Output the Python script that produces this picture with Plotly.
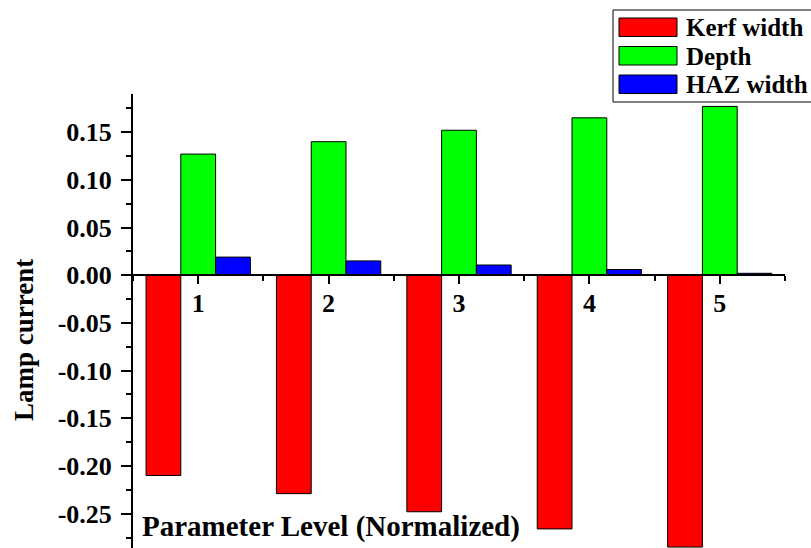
import plotly.graph_objects as go

# Parameter levels and the normalized responses of each output
levels = [1, 2, 3, 4, 5]
series_names = ["Kerf width", "Depth", "HAZ width"]
kerf_width = [-0.210, -0.229, -0.248, -0.266, -0.285]
depth = [0.127, 0.140, 0.152, 0.165, 0.177]
haz_width = [0.019, 0.015, 0.0107, 0.006, 0.002]
series_colors = ["#FF0000", "#00FF00", "#0000FF"]

y_tickvals = [-0.25, -0.20, -0.15, -0.10, -0.05, 0.00, 0.05, 0.10, 0.15]
y_ticktext = ["-0.25", "-0.20", "-0.15", "-0.10", "-0.05", "0.00", "0.05", "0.10", "0.15"]

x_range = [0.5, 5.5]
y_range = [-0.286, 0.19]

FONT = "Liberation Serif, Times New Roman, serif"
W, H = 811, 548
ML, MR, MT, MB = 133, 26, 94, 0

fig = go.Figure()
for name, vals, col in zip(series_names, [kerf_width, depth, haz_width], series_colors):
    fig.add_trace(go.Bar(
        x=levels, y=vals, name=name,
        marker=dict(color=col, line=dict(color="black", width=1)),
        showlegend=False,
    ))

# x axis sits on the zero line of the value axis
x_pos = (0 - y_range[0]) / (y_range[1] - y_range[0])

fig.update_layout(
    width=W, height=H,
    margin=dict(l=ML, r=MR, t=MT, b=MB, pad=0),
    paper_bgcolor="white", plot_bgcolor="white",
    barmode="group", bargap=0.2, bargroupgap=0,
    font=dict(family=FONT, color="black"),
    xaxis=dict(
        range=x_range, tickvals=levels, ticktext=[str(v) for v in levels],
        anchor="free", position=x_pos,
        showline=True, linecolor="black", linewidth=2,
        ticks="outside", ticklen=8, tickwidth=2, tickcolor="black",
        minor=dict(tickmode="linear", tick0=0.5, dtick=1, ticks="outside",
                   ticklen=5, tickwidth=2, tickcolor="black"),
        tickfont=dict(family=FONT, size=26, color="black", weight="bold"),
        ticklabelstandoff=-3,
        showgrid=False, zeroline=False,
    ),
    yaxis=dict(
        range=y_range, tickvals=y_tickvals, ticktext=y_ticktext,
        showline=True, linecolor="black", linewidth=2,
        ticks="outside", ticklen=10, tickwidth=2, tickcolor="black",
        minor=dict(tickmode="linear", tick0=0, dtick=0.025, ticks="outside",
                   ticklen=5, tickwidth=2, tickcolor="black"),
        tickfont=dict(family=FONT, size=26, color="black", weight="bold"),
        ticklabelstandoff=4,
        showgrid=False, zeroline=False,
    ),
)

pw = W - ML - MR
ph = H - MT - MB


def px_x(px):
    return (px - ML) / pw


def px_y(py):
    return (H - MB - py) / ph


# Axis titles
fig.add_annotation(
    text="Lamp current", textangle=-90, showarrow=False,
    xref="paper", yref="paper", x=px_x(24), y=px_y(340),
    xanchor="center", yanchor="middle",
    font=dict(family=FONT, size=27, color="black", weight="bold"),
)
fig.add_annotation(
    text="Parameter Level (Normalized)", showarrow=False,
    xref="paper", yref="paper", x=px_x(140), y=px_y(526),
    xanchor="left", yanchor="middle",
    font=dict(family=FONT, size=29, color="black", weight="bold"),
)

# Legend box with wide swatches
fig.add_shape(type="rect", xref="paper", yref="paper",
              x0=px_x(613), x1=px_x(830), y0=px_y(102), y1=px_y(10),
              line=dict(color="black", width=1), fillcolor="white", layer="above")
for i, (name, col) in enumerate(zip(series_names, series_colors)):
    top = 18 + i * 28.5
    fig.add_shape(type="rect", xref="paper", yref="paper",
                  x0=px_x(619), x1=px_x(677), y0=px_y(top + 18.5), y1=px_y(top),
                  line=dict(color="black", width=1), fillcolor=col, layer="above")
    fig.add_annotation(
        text=name, showarrow=False, xref="paper", yref="paper",
        x=px_x(684), y=px_y(top + 9.5), xanchor="left", yanchor="middle",
        font=dict(family=FONT, size=25, color="black", weight="bold"),
    )

fig.write_html("out.html")
